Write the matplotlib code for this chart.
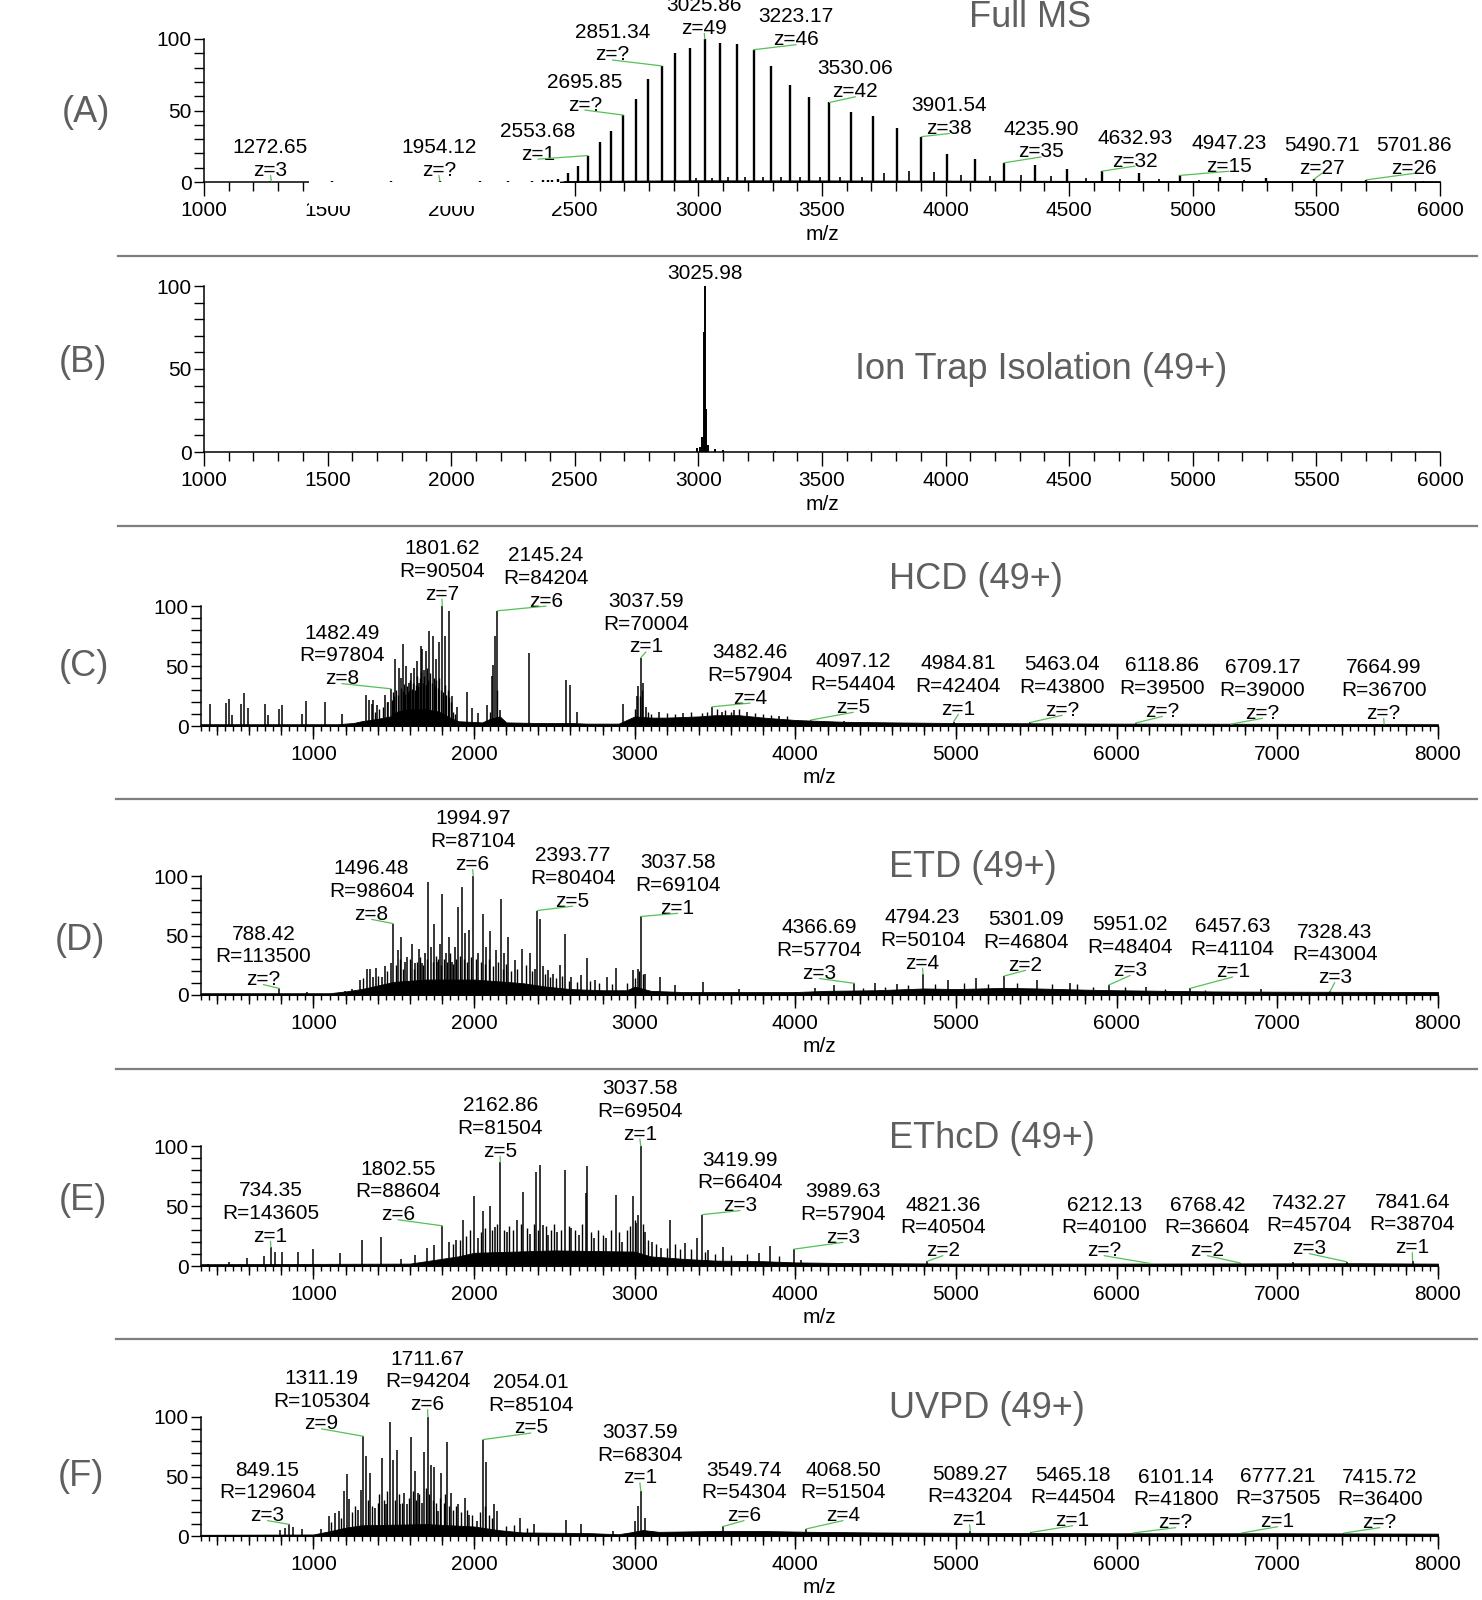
import matplotlib
matplotlib.use("Agg")
import matplotlib.pyplot as plt
from matplotlib.ticker import MultipleLocator
from matplotlib.lines import Line2D
from matplotlib.patches import Rectangle, ConnectionPatch
import matplotlib.transforms as mtransforms

plt.rcParams['font.family'] = ['Liberation Sans', 'DejaVu Sans']

# ---------------- (A) Full MS ----------------
a_mz = [1272.65, 1516, 1755, 1954.12, 2117, 2230, 2328, 2371, 2391.6, 2409, 2430.8,
        2471.3, 2513.2, 2553.68, 2601.3, 2647.8, 2695.85, 2745.8, 2797.5, 2851.34,
        2907.2, 2965.4, 3025.86, 3088.9, 3154.6, 3223.17, 3294.8, 3369.6, 3447.9,
        3530.06, 3616.0, 3706.5, 3801.5, 3901.54, 4006.9, 4118.2, 4235.90, 4360.3,
        4492.4, 4632.93, 4782.2, 4947.23, 5112.0, 5294.6, 5490.71, 5701.86, 5929.7]
a_int = [0.5, 0.6, 0.6, 0.6, 0.7, 0.8, 1.0, 1.2, 1.5, 1.5, 2.0,
         6.0, 11.5, 18.5, 27.8, 35.6, 46.8, 58.0, 71.8, 81.2,
         90.0, 93.8, 100, 97.2, 96.5, 92.5, 81.0, 67.6, 59.5,
         55.6, 49.0, 46.0, 38.0, 31.7, 19.7, 16.2, 13.4, 11.6,
         9.3, 7.6, 6.5, 4.6, 3.2, 2.5, 2.0, 1.5, 1.0]
a_minor_mz = [2990, 3057, 3121, 3189, 3260, 3335, 3411, 3490, 3574, 3662, 3752, 3852,
              3955, 4064, 4179, 4304, 4428, 4566, 4706, 4863, 5025, 5207, 5400, 5600]
a_minor_int = [3, 3, 3.5, 3.5, 3.5, 3.5, 3.7, 3.7, 3.7, 3.7, 6.0, 7.4,
               6.7, 5.0, 4.0, 4.6, 3.9, 3.0, 2.3, 1.9, 1.6, 1.2, 1.0, 0.8]
a_grass_mz = [2440, 2500, 3000, 4000, 5000, 6000]
a_grass_h = [0.3, 0.8, 1.2, 1.0, 0.6, 0.4]
a_ann_mz = [1272.65, 1954.12, 2553.68, 2695.85, 2851.34, 3025.86, 3223.17, 3530.06,
            3901.54, 4235.90, 4632.93, 4947.23, 5490.71, 5701.86]
a_ann_z = ['3', '?', '1', '?', '?', '49', '46', '42', '38', '35', '32', '15', '27', '26']
a_ann_pos = [(1269, 1.5), (1950, 1.5), (2351, 12.9), (2541, 47.2), (2652, 82.2),
             (3024, 100.8), (3395, 92.9), (3635, 56.5), (4015, 30.8), (4386, 14.4),
             (4766, 8.0), (5146, 4.4), (5522, 2.9), (5894, 2.9)]

# ---------------- (B) Ion trap isolation ----------------
b_mz = [2996, 3008, 3016, 3022, 3025.98, 3031, 3038, 3068, 3100, 3310]
b_int = [2.5, 3, 9, 72, 100, 26, 4, 2, 1, 0.6]
b_label = '3025.98'
b_label_pos = (3026, 101.8)

# ---------------- (C) HCD ----------------
c_mz = [356, 456, 472, 493, 551, 570, 591, 698, 719, 786, 802, 927, 954, 1072, 1175,
        1325, 1346, 1362, 1372, 1393, 1445, 1466, 1482.49, 1509, 1532, 1545, 1559, 1576,
        1592, 1609, 1625, 1642, 1655, 1667, 1675, 1690, 1700, 1719, 1746, 1760, 1779,
        1801.62, 1821, 1841, 1864, 1891, 1953, 1984, 2022, 2082, 2109, 2119, 2130,
        2145.24, 2161, 2341, 2575, 2596, 2638, 2924, 3011, 3023, 3037.59, 3052, 3067,
        3150, 3300, 3482.46, 3540, 3620, 3700, 3900, 4097.12, 4300, 4984.81, 5463.04,
        6118.86, 6709.17, 7664.99]
c_int = [18.5, 19, 22.5, 9, 18.5, 27.5, 15, 18, 9, 14, 17.7, 10, 21, 20, 10,
         25.5, 22, 18.5, 22, 17.7, 25.5, 19.7, 31, 55.6, 48.6, 40, 68, 50,
         36, 44, 48.6, 54, 36, 67, 64, 47, 62.6, 78.9, 74.7, 55.6, 69.7,
         100, 74.7, 95.5, 24.7, 16, 28, 15, 10.7, 17.7, 41.6, 51, 75,
         96, 13.5, 61, 38, 34.5, 12, 18.5, 25, 33, 57, 36, 16,
         12, 11, 16, 12, 13, 12, 8, 5, 4, 3.5, 3,
         2.5, 1.5, 1.5]
c_fill_mz = [1380, 1410, 1430, 1455, 1490, 1497, 1504, 1514, 1526, 1542, 1556, 1563, 1572,
             1580, 1588, 1596, 1604, 1613, 1621, 1629, 1637, 1646, 1653, 1663, 1671, 1679,
             1687, 1698, 1705, 1714, 1724, 1735, 1750, 1756, 1765, 1774, 1784, 1795, 1806,
             1816, 1825, 1835, 1846, 1855, 1870, 1880, 2100, 2140, 3000, 3030, 3045, 3080,
             3100, 3200, 3250, 3350, 3420, 3450, 3510, 3560, 3600, 3650, 3750, 3800, 3850,
             3950]
c_fill_int = [12, 14, 16, 20, 22, 28, 25, 30, 26, 32, 29, 35, 27,
              33, 28, 30, 38, 31, 36, 30, 34, 42, 33, 40, 45, 36,
              42, 34, 48, 38, 44, 36, 40, 33, 38, 32, 40, 30, 28,
              34, 26, 30, 24, 20, 12, 10, 12, 30, 14, 25, 30, 12,
              10, 11, 10, 12, 11, 12, 14, 13, 12, 14, 11, 10, 9,
              8]
c_grass_mz = [300, 1150, 1250, 1300, 1400, 1480, 1520, 1600, 1700, 1780, 1850, 1900,
              2050, 2100, 2160, 2200, 2400, 2600, 2700, 2900, 2950, 3000, 3100, 3200,
              3400, 3500, 3650, 3800, 4000, 4300, 4600, 5000, 6000, 7000, 8000]
c_grass_h = [1.5, 1.5, 2.5, 4, 6, 8, 12, 14, 14, 12, 7, 4,
             3, 6, 8, 3, 2.5, 2.5, 2, 2, 5, 8, 7, 7,
             8, 9, 9, 7, 5, 3.5, 3, 2.5, 2, 1.8, 1.5]
c_ann_mz = [1482.49, 1801.62, 2145.24, 3037.59, 3482.46, 4097.12, 4984.81, 5463.04,
            6118.86, 6709.17, 7664.99]
c_ann_R = ['97804', '90504', '84204', '70004', '57904', '54404', '42404', '43800',
           '39500', '39000', '36700']
c_ann_z = ['8', '7', '6', '1', '4', '5', '1', '?', '?', '?', '?']
c_ann_pos = [(1177, 31.6), (1800, 102), (2448, 96.2), (3070, 58), (3718, 15.4),
             (4360, 7.7), (5014, 6.0), (5661, 5.2), (6284, 4.3), (6907, 2.7), (7662, 2.7)]

# ---------------- (D) ETD ----------------
d_mz = [788.42, 959, 1194, 1238, 1288, 1332, 1350, 1371, 1391, 1424, 1444, 1482, 1496.48,
        1526, 1547, 1568, 1585, 1612, 1635, 1656, 1673, 1694, 1715, 1732, 1750, 1768,
        1785, 1803, 1823, 1841, 1862, 1879, 1900, 1923, 1944, 1968, 1994.97, 2023, 2053,
        2076, 2100, 2135, 2165, 2188, 2209, 2253, 2300, 2347, 2379, 2393.77, 2409, 2429,
        2459, 2488, 2532, 2568, 2606, 2665, 2700, 2753, 2829, 2885, 2988, 3018, 3037.58,
        3062, 3159, 3253, 3423, 3650, 4006, 4123, 4241, 4366.69, 4497, 4635, 4794.23,
        4947, 5123, 5301.09, 5506, 5712, 5951.02, 6182, 6457.63, 6900, 7328.43]
d_int = [5.5, 2.5, 3.6, 4.7, 12.6, 22, 22, 15, 23, 15, 24, 26.5, 60,
         37.7, 49, 28, 32, 42.7, 26.5, 39, 26.5, 35, 95, 40.5, 60, 28,
         43, 84.6, 35, 49, 28, 40.5, 74, 90.8, 51.7, 54.5, 100, 35, 68,
         40.5, 54, 37.7, 81, 35, 49, 29, 39, 35, 22, 71, 64, 24,
         21, 18, 25, 51, 15, 17, 31, 12.6, 15, 23, 21, 22, 66,
         18, 15, 8, 11, 5, 2.8, 6, 8.4, 9.8, 9.8, 9.5, 17.3,
         13, 14, 16, 13, 10, 8.4, 6.7, 5.6, 4.7, 3]
d_fill_mz = [1310, 1400, 1460, 1515, 1540, 1560, 1600, 1625, 1645, 1665, 1685, 1705, 1742,
             1760, 1777, 1795, 1815, 1832, 1852, 1870, 1890, 1912, 1935, 1955, 1980, 2010,
             2040, 2065, 2090, 2120, 2150, 2177, 2200, 2230, 2270, 2320, 2360, 2440, 2470,
             2510, 2550, 2590, 2640, 2720, 2780, 2860, 2950, 3000, 3025, 3050, 4420, 4560,
             4700, 4870, 5050, 5200, 5380, 5600, 5750, 5850, 6050, 6300, 6550]
d_fill_int = [14, 16, 20, 25, 30, 22, 30, 22, 28, 32, 25, 30, 28,
              33, 30, 25, 30, 28, 35, 26, 30, 33, 30, 28, 32, 30,
              28, 26, 30, 24, 28, 22, 26, 20, 22, 25, 20, 18, 15,
              14, 16, 12, 11, 12, 10, 9, 10, 14, 20, 18, 6, 7,
              8, 9, 10, 9, 10, 9, 9.5, 7, 7, 5, 4.5]
d_grass_mz = [300, 1100, 1200, 1300, 1400, 1500, 1700, 2000, 2300, 2450, 2600, 2800, 2950,
              3000, 3100, 3300, 3500, 4000, 4200, 4500, 4800, 5000, 5300, 5500, 5800,
              6000, 6300, 6600, 7000, 8000]
d_grass_h = [1.5, 1.5, 3, 5, 8, 11, 13, 13, 10, 7, 5, 4, 4,
             7, 3.5, 2.5, 2.5, 2.5, 3.5, 4, 5.5, 5, 6, 5.5, 4.5,
             4, 3.5, 3, 2.8, 2.5]
d_ann_mz = [788.42, 1496.48, 1994.97, 2393.77, 3037.58, 4366.69, 4794.23, 5301.09,
            5951.02, 6457.63, 7328.43]
d_ann_R = ['113500', '98604', '87104', '80404', '69104', '57704', '50104', '46804',
           '48404', '41104', '43004']
d_ann_z = ['?', '8', '6', '5', '1', '3', '4', '2', '3', '1', '3']
d_ann_pos = [(688, 5.0), (1362, 59.8), (1991, 101.7), (2613, 70.9), (3267, 64.9),
             (4150, 10.1), (4792, 18.7), (5433, 17.0), (6084, 12.7), (6722, 11.4), (7357, 6.7)]

# ---------------- (E) EThcD ----------------
e_mz = [341, 474, 585, 694, 734.35, 759, 803, 903, 1000, 1165, 1303, 1418, 1547, 1635,
        1709, 1753, 1802.55, 1841, 1888, 1929, 1997, 2023, 2053, 2097, 2129, 2162.86,
        2203, 2270, 2306, 2350, 2385, 2412, 2429, 2459, 2518, 2568, 2606, 2650, 2694,
        2703, 2747, 2820, 2885, 2923, 2988, 3009, 3023, 3037.58, 3062, 3106, 3165, 3218,
        3312, 3385, 3419.99, 3459, 3547, 3771, 3844, 3989.63, 4035, 4821.36, 6212.13,
        6768.42, 7100, 7432.27, 7841.64]
e_int = [2, 3.4, 6.8, 8.5, 15.5, 11.8, 11.8, 11.8, 13.8, 11, 22, 24.5, 6, 9,
         14.6, 17.5, 33.5, 20, 21.7, 38, 58, 23, 46, 50, 32.7, 86.5,
         28, 38.6, 61.7, 27, 78, 84, 34, 26, 28.7, 80, 31.5, 26, 60.6,
         83.4, 23, 23, 59, 20, 58, 35.8, 42.8, 100, 28.7, 20, 14.6, 38.3,
         18.9, 23, 42.8, 13, 16, 10.7, 17, 14, 5, 4, 2,
         2.5, 3, 3.5, 4.5]
e_fill_mz = [1870, 1910, 1950, 1975, 2040, 2070, 2110, 2145, 2185, 2220, 2245, 2290, 2330,
             2370, 2400, 2445, 2480, 2500, 2540, 2590, 2625, 2670, 2725, 2770, 2800, 2850,
             2900, 2950, 2970, 3000, 3050, 3080, 3130, 3200, 3250, 3280, 3350, 3440, 3500,
             3600, 3700, 3900]
e_fill_int = [18, 22, 25, 30, 28, 32, 30, 35, 30, 33, 30, 35, 32,
              35, 30, 33, 30, 35, 30, 33, 30, 35, 28, 30, 26, 30,
              28, 30, 33, 38, 35, 22, 18, 15, 18, 14, 14, 12, 10,
              9, 10, 8]
e_grass_mz = [300, 1600, 1700, 1800, 1900, 2000, 2500, 3000, 3100, 3300, 3500, 3800,
              4000, 4300, 5000, 6000, 7000, 7500, 8000]
e_grass_h = [1.5, 2, 4, 6, 8, 11, 13, 12, 8, 6, 4.5, 4,
             3, 2.5, 2, 2, 2.2, 2.3, 2]
e_ann_mz = [734.35, 1802.55, 2162.86, 3037.58, 3419.99, 3989.63, 4821.36, 6212.13,
            6768.42, 7432.27, 7841.64]
e_ann_R = ['143605', '88604', '81504', '69504', '66404', '57904', '40504', '40100',
           '36604', '45704', '38704']
e_ann_z = ['1', '6', '5', '1', '3', '3', '2', '?', '2', '3', '1']
e_ann_pos = [(733, 16.9), (1527, 34.8), (2162, 87.8), (3032, 102), (3655, 42.5),
             (4296, 16.0), (4918, 4.9), (5922, 4.9), (6564, 4.9), (7199, 6.6), (7840, 7.4)]

# ---------------- (F) UVPD ----------------
f_mz = [791, 821, 849.15, 871, 929, 1047, 1097, 1135, 1159, 1188, 1209, 1224, 1276, 1294,
        1311.19, 1329, 1353, 1385, 1424, 1450, 1474, 1494, 1518, 1541, 1562, 1582, 1609,
        1629, 1650, 1673, 1688, 1711.67, 1732, 1753, 1776, 1797, 1832, 1856, 1900, 1944,
        1968, 2018, 2054.01, 2076, 2121, 2141, 2288, 2371, 2570, 2665, 2862, 3003, 3023,
        3037.59, 3062, 3106, 3549.74, 4068.50, 5089.27, 5465.18, 6101.14, 6777.21, 7415.72]
f_int = [4.7, 6.4, 9.8, 7.5, 5.6, 5.6, 16.8, 19.5, 21, 37.7, 52, 31.3, 22, 39,
         83.8, 67, 53, 23.7, 65.6, 26.5, 95.5, 64, 72.6, 26.5, 36.3, 26.5, 83,
         54.5, 36.3, 28, 71, 100, 60, 57.8, 21, 53, 78.8, 36.3, 26.5, 32,
         18, 12.6, 81, 62, 26.5, 21, 15.4, 9.8, 13.4, 9.8, 4.2, 12.6, 25.4,
         37.7, 15.4, 4, 8, 6, 4, 3, 2.5, 2.5, 2.5]
f_fill_mz = [1110, 1170, 1240, 1260, 1340, 1365, 1400, 1410, 1440, 1460, 1505, 1530, 1550,
             1595, 1618, 1640, 1660, 1700, 1720, 1745, 1765, 1786, 1810, 1820, 1845, 1870,
             1890, 1920, 1955, 1990, 2035, 2065, 2095, 2110, 2200, 2250, 2330]
f_fill_int = [12, 15, 20, 25, 30, 25, 28, 35, 30, 38, 30, 35, 28,
              32, 38, 30, 35, 40, 35, 30, 28, 32, 28, 35, 25, 22,
              25, 20, 22, 18, 20, 25, 18, 15, 8, 9, 7]
f_grass_mz = [300, 1000, 1100, 1200, 1300, 1700, 2000, 2150, 2300, 2700, 2900, 2970, 3050,
              3150, 3500, 3800, 4100, 4500, 5000, 6000, 7000, 8000]
f_grass_h = [1, 1.3, 4, 7, 9, 10, 8, 5, 3, 2.5, 1.5, 3, 5,
             3.5, 4.2, 4.2, 3.5, 3, 2.7, 2.3, 2.3, 2]
f_ann_mz = [849.15, 1311.19, 1711.67, 2054.01, 3037.59, 3549.74, 4068.50, 5089.27,
            5465.18, 6101.14, 6777.21, 7415.72]
f_ann_R = ['129604', '105304', '94204', '85104', '68304', '54304', '51504', '43204',
           '44504', '41800', '37505', '36400']
f_ann_z = ['3', '9', '6', '5', '1', '6', '4', '1', '1', '?', '1', '?']
f_ann_pos = [(714, 9.2), (1050, 86.3), (1711, 102.5), (2353, 82.8), (3032, 40.9),
             (3680, 9.2), (4296, 9.2), (5084, 5.8), (5726, 4.9), (6367, 3.3), (7002, 4.1),
             (7637, 3.3)]

panel_letters = ['(A)', '(B)', '(C)', '(D)', '(E)', '(F)']
titles = ['Full MS', 'Ion Trap Isolation (49+)', 'HCD (49+)', 'ETD (49+)',
          'EThcD (49+)', 'UVPD (49+)']

# ---------------- layout (pixels) ----------------
W, H = 1482, 1600
fig = plt.figure(figsize=(W / 100, H / 100), dpi=100)

FS = 15
GREEN = '#55c055'
GRAY = '#5f5f5f'
DESC = 3.2  # text descent in points, so leaders start at the baseline


def box(x0, x1, y_top, y_bot):
    return [x0 / W, 1 - y_bot / H, (x1 - x0) / W, (y_bot - y_top) / H]


def style(ax, xmin, xmax, major, minor, major_len, minor_len, medium=None):
    ax.set_xlim(xmin, xmax)
    ax.set_ylim(0, 100)
    ax.patch.set_visible(False)
    for s in ['top', 'right']:
        ax.spines[s].set_visible(False)
    for s in ['left', 'bottom']:
        ax.spines[s].set_linewidth(1.1)
    ax.xaxis.set_major_locator(MultipleLocator(major))
    ax.xaxis.set_minor_locator(MultipleLocator(minor))
    ax.yaxis.set_major_locator(MultipleLocator(50))
    ax.yaxis.set_minor_locator(MultipleLocator(10))
    ax.tick_params(axis='both', which='both', direction='out', width=1.0, labelsize=FS)
    ax.tick_params(axis='y', which='both', length=7.5, pad=1.5)
    ax.tick_params(axis='x', which='major', length=major_len, pad=4)
    ax.tick_params(axis='x', which='minor', length=minor_len)
    if medium:
        sec = ax.secondary_xaxis('bottom')
        sec.xaxis.set_major_locator(MultipleLocator(medium))
        sec.tick_params(length=6.5, width=1.0, labelbottom=False, direction='out')
        for sp in sec.spines.values():
            sp.set_visible(False)
    ax.set_xlabel('m/z', fontsize=FS, labelpad=3)


def spectrum(ax, mz, inten, lw, grass_mz=None, grass_h=None):
    if grass_mz is not None:
        ax.fill_between(grass_mz, 0, grass_h, color='black', lw=0.6, zorder=4)
    ax.vlines(mz, 0, inten, color='black', lw=lw, zorder=4)


def annotate(ax, mz, inten, ann_mz, texts, positions):
    lookup = dict(zip(mz, inten))
    lift = ax.transData + mtransforms.ScaledTranslation(0, DESC / 72, fig.dpi_scale_trans)
    for pmz, txt, (lx, ly) in zip(ann_mz, texts, positions):
        ax.text(lx, ly, txt, ha='center', va='bottom', fontsize=FS,
                linespacing=1.25, zorder=6, clip_on=False)
        con = ConnectionPatch(xyA=(lx, ly), coordsA=lift,
                              xyB=(pmz, lookup[pmz]), coordsB=ax.transData,
                              color=GREEN, lw=0.9, zorder=6, clip_on=False)
        ax.add_artist(con)


# (A)
axA = fig.add_axes(box(204, 1440, 39, 182))
style(axA, 1000, 6000, 500, 100, 10, 6.5)
spectrum(axA, a_mz, a_int, 1.7, a_grass_mz, a_grass_h)
axA.vlines(a_minor_mz, 0, a_minor_int, color='black', lw=1.2, zorder=4)
annotate(axA, a_mz, a_int, a_ann_mz,
         [f'{m:.2f}\nz={z}' for m, z in zip(a_ann_mz, a_ann_z)], a_ann_pos)
# white gap hiding part of the baseline and tick labels, as in the original
gap = Rectangle((1425, -0.171), 1030, 0.179,
                transform=mtransforms.blended_transform_factory(axA.transData, axA.transAxes),
                facecolor='white', edgecolor='none', clip_on=False, zorder=3)
axA.add_patch(gap)

# (B)
axB = fig.add_axes(box(204, 1440, 286, 452))
style(axB, 1000, 6000, 500, 100, 10, 6.5)
spectrum(axB, b_mz, b_int, 1.4)
axB.text(b_label_pos[0], b_label_pos[1], b_label, ha='center', va='bottom', fontsize=FS)

# (C)-(F)
rows = [
    (606, 726, c_mz, c_int, c_fill_mz, c_fill_int, c_grass_mz, c_grass_h,
     c_ann_mz, c_ann_R, c_ann_z, c_ann_pos),
    (876, 995, d_mz, d_int, d_fill_mz, d_fill_int, d_grass_mz, d_grass_h,
     d_ann_mz, d_ann_R, d_ann_z, d_ann_pos),
    (1146, 1266, e_mz, e_int, e_fill_mz, e_fill_int, e_grass_mz, e_grass_h,
     e_ann_mz, e_ann_R, e_ann_z, e_ann_pos),
    (1417, 1536, f_mz, f_int, f_fill_mz, f_fill_int, f_grass_mz, f_grass_h,
     f_ann_mz, f_ann_R, f_ann_z, f_ann_pos),
]
for y_top, y_bot, mz, inten, fmz, fint, gmz, gh, amz, aR, az, apos in rows:
    ax = fig.add_axes(box(201, 1438, y_top, y_bot))
    style(ax, 300, 8000, 1000, 50, 9.5, 3.6, medium=200)
    spectrum(ax, mz, inten, 1.1, gmz, gh)
    ax.vlines(fmz, 0, fint, color='black', lw=1.0, zorder=4)
    annotate(ax, mz, inten, amz,
             [f'{m:.2f}\nR={r}\nz={z}' for m, r, z in zip(amz, aR, az)], apos)

# separators
for y, x0 in [(256, 118), (525.7, 118), (799, 116), (1069, 116), (1339, 116)]:
    fig.add_artist(Line2D([x0 / W, 1477 / W], [1 - y / H] * 2, color='#7f7f7f', lw=1.6))

# panel letters
for lab, (x, y) in zip(panel_letters, [(86, 113), (82.6, 363), (83.8, 667),
                                       (80, 940), (82.6, 1201), (81, 1476)]):
    fig.text(x / W, 1 - y / H, lab, fontsize=26, color=GRAY, ha='center', va='center')

# titles
for t, (x, y) in zip(titles, [(969, 26.7), (855, 378.7), (889, 589),
                              (889, 876.7), (889, 1148.3), (889, 1418.3)]):
    fig.text(x / W, 1 - y / H, t, fontsize=26, color=GRAY, ha='left', va='baseline')

fig.savefig('out.png', dpi=100)
